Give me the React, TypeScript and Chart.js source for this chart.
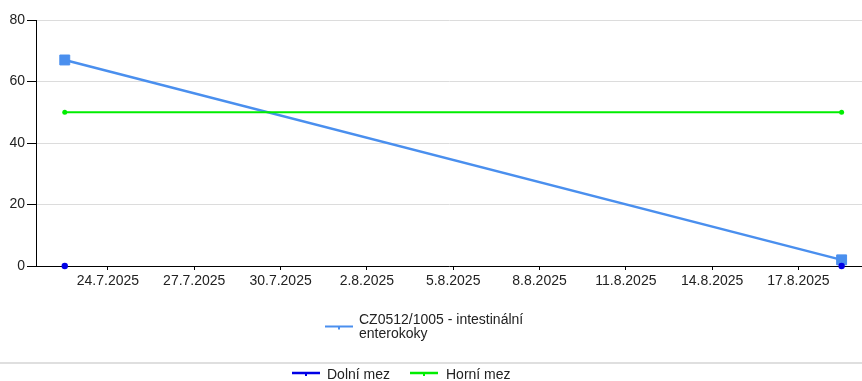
import React, { useEffect, useRef } from "react";
import { Chart, registerables } from "chart.js";

Chart.register(...registerables);

// ---- data ----
const seriesName = "CZ0512/1005 - intestinální enterokoky";
const seriesLegendLines = ["CZ0512/1005 - intestinální", "enterokoky"];
const sampleDates = ["2025-07-22T12:00", "2025-08-18T12:00"];
const seriesValues = [67, 2];
const lowerLimitName = "Dolní mez";
const lowerLimitValues = [0, 0];
const upperLimitName = "Horní mez";
const upperLimitValues = [50, 50];
const xTickLabels = [
  "24.7.2025",
  "27.7.2025",
  "30.7.2025",
  "2.8.2025",
  "5.8.2025",
  "8.8.2025",
  "11.8.2025",
  "14.8.2025",
  "17.8.2025",
];
const axisStart = "2025-07-21T12:00";
const axisEnd = "2025-08-19T05:00";
const yMin = 0;
const yMax = 80;
const yStep = 20;

// ---- styles ----
const SERIES_COLOR = "#4a8fee";
const LOWER_COLOR = "#0000e6";
const UPPER_COLOR = "#00ee00";
const TEXT_COLOR = "#222222";
const FONT_FAMILY = '"Liberation Sans", Arial, sans-serif';

const BASE = Date.UTC(2025, 6, 24);
const DAY = 86400000;

function isoToDays(iso: string): number {
  const [d, t] = iso.split("T");
  const [y, m, dd] = d.split("-").map(Number);
  const [h, mi] = (t || "00:00").split(":").map(Number);
  return (Date.UTC(y, m - 1, dd, h, mi) - BASE) / DAY;
}

function labelToDays(label: string): number {
  const [d, m, y] = label.split(".").map(Number);
  return (Date.UTC(y, m - 1, d) - BASE) / DAY;
}

const legendPlugin = {
  id: "customLegends",
  afterDraw(chart: any) {
    const ctx = chart.ctx as CanvasRenderingContext2D;
    ctx.save();
    ctx.font = `14px ${FONT_FAMILY}`;
    ctx.textBaseline = "alphabetic";
    ctx.textAlign = "left";

    const sample = (x1: number, x2: number, y: number, color: string, w: number) => {
      ctx.strokeStyle = color;
      ctx.lineWidth = w;
      ctx.beginPath();
      ctx.moveTo(x1, y);
      ctx.lineTo(x2, y);
      ctx.stroke();
      ctx.fillStyle = color;
      const cx = (x1 + x2) / 2;
      ctx.fillRect(cx - 1, y, 2, 3);
    };

    // legend 1
    sample(325, 353, 326.5, SERIES_COLOR, 2);
    ctx.fillStyle = TEXT_COLOR;
    ctx.fillText(seriesLegendLines[0], 359, 323.5);
    ctx.fillText(seriesLegendLines[1], 359, 338);

    // separator
    ctx.strokeStyle = "#d4d4d4";
    ctx.lineWidth = 1.5;
    ctx.beginPath();
    ctx.moveTo(0, 363);
    ctx.lineTo(chart.width, 363);
    ctx.stroke();

    // legend 2
    sample(292, 320, 373, LOWER_COLOR, 2.5);
    ctx.fillStyle = TEXT_COLOR;
    ctx.fillText(lowerLimitName, 327, 378.5);
    sample(410, 438, 373, UPPER_COLOR, 2.5);
    ctx.fillStyle = TEXT_COLOR;
    ctx.fillText(upperLimitName, 446, 378.5);
    ctx.restore();
  },
};

export default function App() {
  const ref = useRef<HTMLCanvasElement | null>(null);

  useEffect(() => {
    document.body.style.margin = "0";
    const canvas = ref.current;
    if (!canvas) return;
    const xs = sampleDates.map(isoToDays);
    const chart = new Chart(canvas, {
      type: "line",
      data: {
        datasets: [
          {
            label: seriesName,
            data: xs.map((x, i) => ({ x, y: seriesValues[i] })),
            borderColor: SERIES_COLOR,
            backgroundColor: SERIES_COLOR,
            borderWidth: 2.5,
            pointStyle: "rect",
            pointRadius: 7,
            pointBorderWidth: 1,
            pointBackgroundColor: SERIES_COLOR,
            pointBorderColor: SERIES_COLOR,
            clip: false,
            order: 3,
          },
          {
            label: upperLimitName,
            data: xs.map((x, i) => ({ x, y: upperLimitValues[i] })),
            borderColor: UPPER_COLOR,
            backgroundColor: UPPER_COLOR,
            borderWidth: 2,
            pointRadius: 2.5,
            pointBorderWidth: 0,
            clip: false,
            order: 2,
          },
          {
            label: lowerLimitName,
            data: xs.map((x, i) => ({ x, y: lowerLimitValues[i] })),
            borderColor: LOWER_COLOR,
            backgroundColor: LOWER_COLOR,
            showLine: false,
            pointRadius: 3.2,
            pointBorderWidth: 0,
            clip: false,
            order: 1,
          },
        ],
      },
      options: {
        animation: false,
        responsive: false,
        maintainAspectRatio: false,
        layout: { autoPadding: false, padding: { top: 20, right: 0, bottom: 91, left: 0 } },
        plugins: {
          legend: { display: false },
          tooltip: { enabled: false },
        },
        scales: {
          x: {
            type: "linear",
            min: isoToDays(axisStart),
            max: isoToDays(axisEnd),
            afterBuildTicks: (scale: any) => {
              scale.ticks = xTickLabels.map((l) => ({ value: labelToDays(l) }));
            },
            afterFit: (scale: any) => {
              scale.height = 24;
            },
            ticks: {
              autoSkip: false,
              maxRotation: 0,
              minRotation: 0,
              padding: 3,
              color: TEXT_COLOR,
              font: { size: 14, family: FONT_FAMILY },
              callback: (_v: any, i: number) => xTickLabels[i],
            },
            grid: {
              drawOnChartArea: false,
              drawTicks: true,
              tickLength: 4,
              color: "#000",
              tickColor: "#000",
            },
            border: { color: "#000", width: 1 },
          },
          y: {
            min: yMin,
            max: yMax,
            afterFit: (scale: any) => {
              scale.width = 36;
            },
            ticks: {
              stepSize: yStep,
              padding: 2,
              color: TEXT_COLOR,
              font: { size: 14, family: FONT_FAMILY },
            },
            grid: {
              color: (c: any) => (c.tick && c.tick.value === 0 ? "rgba(0,0,0,0)" : "#dcdcdc"),
              tickColor: "#000",
              tickLength: 9,
              lineWidth: 1,
            },
            border: { color: "#000", width: 1 },
          },
        },
      },
      plugins: [legendPlugin],
    });
    return () => chart.destroy();
  }, []);

  return (
    <div style={{ width: 862, height: 381 }}>
      <canvas ref={ref} width={862} height={381} />
    </div>
  );
}
